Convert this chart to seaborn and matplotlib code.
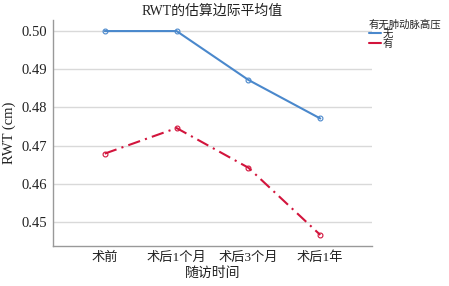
import matplotlib
matplotlib.use("Agg")
import matplotlib.pyplot as plt
import seaborn as sns
import pandas as pd

categories = ["术前", "术后1个月", "术后3个月", "术后1年"]
groups = ["无", "有"]
values_no = [0.500, 0.500, 0.4872, 0.4771]
values_yes = [0.4679, 0.4746, 0.4642, 0.4466]

sns.set_style("white")
plt.rcParams['font.family'] = ['Liberation Serif', 'Noto Sans CJK SC']

df = pd.DataFrame({
    "随访时间": categories * 2,
    "RWT": values_no + values_yes,
    "有无肺动脉高压": [groups[0]] * 4 + [groups[1]] * 4,
})

fig = plt.figure(figsize=(4.49, 2.86), dpi=100)
ax = fig.add_axes([53/449, 1 - 246/286, (372-53)/449, (246-20)/286])

palette = {"无": "#4a88cc", "有": "#d2143c"}
sns.lineplot(data=df, x="随访时间", y="RWT", hue="有无肺动脉高压", style="有无肺动脉高压",
             palette=palette, dashes={"无": "", "有": (6, 2.5, 1, 2.5)}, markers={"无": "o", "有": "o"},
             markersize=3.5, markerfacecolor="none", markeredgewidth=0.8, linewidth=1.5,
             sort=False, ax=ax, legend=False)
for line in ax.lines:
    line.set_markerfacecolor("none")
    line.set_markeredgecolor(line.get_color())

ax.set_xlim(-0.72, 3.72)
ax.set_ylim(0.4437, 0.5029)
ax.set_yticks([0.45, 0.46, 0.47, 0.48, 0.49, 0.50])
ax.set_yticklabels(["0.45", "0.46", "0.47", "0.48", "0.49", "0.50"])
ax.yaxis.grid(True, color="#d9d9d9", linewidth=1)
ax.set_axisbelow(True)
ax.tick_params(axis="y", length=0, labelsize=10.5, colors="#222222", pad=4)
ax.tick_params(axis="x", length=0, labelsize=9.5, colors="#222222", pad=4)
for s in ["top", "right"]:
    ax.spines[s].set_visible(False)
for s in ["left", "bottom"]:
    ax.spines[s].set_color("#999999")
    ax.spines[s].set_linewidth(1)

ax.set_xlabel("随访时间", fontsize=10, color="#222222", labelpad=2)
ax.set_ylabel("RWT (cm)", fontsize=10.5, color="#222222", labelpad=4)
ax.set_title("RWT的估算边际平均值", fontsize=10, color="#222222", pad=4)

from matplotlib.lines import Line2D
handles = [Line2D([0], [0], color=palette[g], linewidth=1.5) for g in groups]
leg = fig.legend(handles, groups, title="有无肺动脉高压", loc="upper left",
                 bbox_to_anchor=(368/449, 1 - 18/286), frameon=False, fontsize=7.5,
                 title_fontsize=7.5, handlelength=1.1, handletextpad=0.2,
                 labelspacing=0.0, borderpad=0.1, borderaxespad=0.0)
leg._legend_box.align = "left"
leg._legend_box.sep = 0
for t in leg.get_texts():
    t.set_color("#222222")
leg.get_title().set_color("#222222")

fig.savefig("out.png", dpi=100)
